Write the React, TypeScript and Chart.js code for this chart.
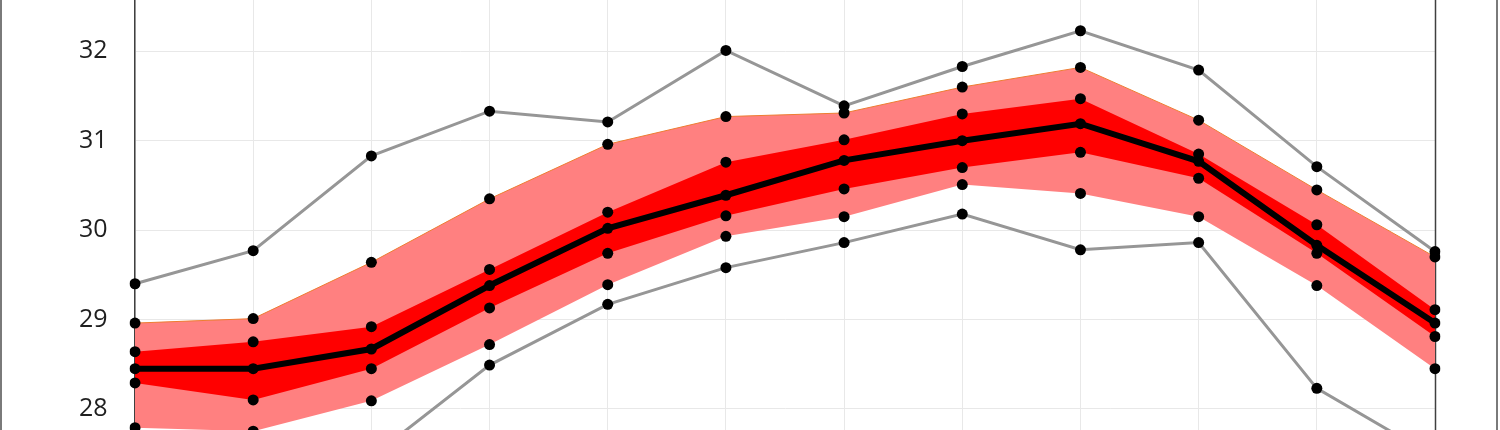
import React, { useEffect, useRef } from "react";
import { Chart, registerables } from "chart.js";

Chart.register(...registerables);

const categories = ["1", "2", "3", "4", "5", "6", "7", "8", "9", "10", "11", "12"];
const maxValues = [29.4, 29.77, 30.83, 31.33, 31.21, 32.01, 31.39, 31.83, 32.23, 31.79, 30.71, 29.76];
const outerUpper = [28.96, 29.01, 29.64, 30.35, 30.96, 31.27, 31.31, 31.6, 31.82, 31.23, 30.45, 29.7];
const innerUpper = [28.64, 28.75, 28.92, 29.56, 30.2, 30.76, 31.01, 31.3, 31.47, 30.85, 30.06, 29.11];
const meanValues = [28.45, 28.45, 28.67, 29.38, 30.02, 30.39, 30.78, 31.0, 31.19, 30.77, 29.83, 28.96];
const innerLower = [28.29, 28.1, 28.45, 29.13, 29.74, 30.16, 30.46, 30.7, 30.87, 30.58, 29.74, 28.81];
const outerLower = [27.79, 27.75, 28.09, 28.72, 29.39, 29.93, 30.15, 30.51, 30.41, 30.15, 29.38, 28.45];
const minValues = [27.4, 27.3, 27.46, 28.49, 29.17, 29.58, 29.86, 30.18, 29.78, 29.86, 28.23, 27.46];
const yTicks = [28, 29, 30, 31, 32];
const yMin = 27.764;
const yMax = 32.574;

const framePlugin = {
  id: "framePlugin",
  beforeDatasetsDraw(chart: any) {
    const { ctx, chartArea } = chart;
    ctx.save();
    ctx.strokeStyle = "#404040";
    ctx.lineWidth = 1.5;
    ctx.beginPath();
    ctx.moveTo(chartArea.right + 0.5, 0);
    ctx.lineTo(chartArea.right + 0.5, chart.height);
    ctx.stroke();
    ctx.restore();
  },
  afterDraw(chart: any) {
    const { ctx } = chart;
    ctx.save();
    ctx.strokeStyle = "#7a7a7a";
    ctx.lineWidth = 2;
    ctx.beginPath();
    ctx.moveTo(1, 0);
    ctx.lineTo(1, chart.height);
    ctx.moveTo(1497, 0);
    ctx.lineTo(1497, chart.height);
    ctx.stroke();
    ctx.restore();
  },
};

const pointStyle = {
  pointRadius: 5.5,
  pointHoverRadius: 5.5,
  pointBackgroundColor: "#000000",
  pointBorderWidth: 0,
};

const zeroPadding = (s: any) => {
  s.paddingTop = 0;
  s.paddingBottom = 0;
  s.paddingLeft = 0;
  s.paddingRight = 0;
};

export default function App() {
  const canvasRef = useRef<HTMLCanvasElement | null>(null);

  useEffect(() => {
    if (!canvasRef.current) return;
    const chart = new Chart(canvasRef.current, {
      type: "line",
      data: {
        labels: categories,
        datasets: [
          {
            label: "outerUpper",
            data: outerUpper,
            borderColor: "rgb(237,125,49)",
            borderWidth: 1,
            backgroundColor: "rgb(255,128,128)",
            fill: "+1",
            order: 10,
            tension: 0,
            ...pointStyle,
          },
          {
            label: "outerLower",
            data: outerLower,
            borderColor: "rgba(0,0,0,0)",
            borderWidth: 0,
            fill: false,
            order: 9,
            tension: 0,
            ...pointStyle,
          },
          {
            label: "innerUpper",
            data: innerUpper,
            borderColor: "rgba(0,0,0,0)",
            borderWidth: 0,
            backgroundColor: "rgb(255,0,0)",
            fill: "+1",
            order: 8,
            tension: 0,
            ...pointStyle,
          },
          {
            label: "innerLower",
            data: innerLower,
            borderColor: "rgba(0,0,0,0)",
            borderWidth: 0,
            fill: false,
            order: 7,
            tension: 0,
            ...pointStyle,
          },
          {
            label: "max",
            data: maxValues,
            borderColor: "rgb(150,150,150)",
            borderWidth: 3,
            fill: false,
            order: 5,
            tension: 0,
            ...pointStyle,
          },
          {
            label: "min",
            data: minValues,
            borderColor: "rgb(150,150,150)",
            borderWidth: 3,
            fill: false,
            order: 4,
            tension: 0,
            ...pointStyle,
          },
          {
            label: "mean",
            data: meanValues,
            borderColor: "#000000",
            borderWidth: 6,
            fill: false,
            order: 1,
            tension: 0,
            ...pointStyle,
          },
        ],
      },
      options: {
        responsive: false,
        animation: false,
        layout: { padding: { left: 0, right: 65, top: 0, bottom: 0 }, autoPadding: false },
        plugins: {
          legend: { display: false },
          tooltip: { enabled: false },
        },
        scales: {
          x: {
            offset: false,
            grid: { color: "#e8e8e8", lineWidth: 1, drawTicks: false },
            border: { display: false },
            ticks: { display: false },
            afterFit: (s: any) => {
              s.height = 0;
              zeroPadding(s);
            },
          },
          y: {
            min: yMin,
            max: yMax,
            grid: { color: "#e8e8e8", lineWidth: 1, drawTicks: false },
            border: { display: true, color: "#404040", width: 1.5 },
            ticks: {
              padding: 27.5,
              color: "#1f1f1f",
              font: { family: "'Open Sans', 'Noto Sans', sans-serif", size: 25 },
              includeBounds: false,
            },
            afterBuildTicks: (s: any) => {
              s.ticks = yTicks.map((v) => ({ value: v }));
            },
            afterFit: (s: any) => {
              s.width = 135;
              zeroPadding(s);
            },
          },
        },
      },
      plugins: [framePlugin],
    });
    return () => chart.destroy();
  }, []);

  return (
    <div style={{ position: "absolute", left: 0, top: 0, width: 1500, height: 430, background: "#ffffff" }}>
      <canvas ref={canvasRef} width={1500} height={430} style={{ display: "block" }} />
    </div>
  );
}
